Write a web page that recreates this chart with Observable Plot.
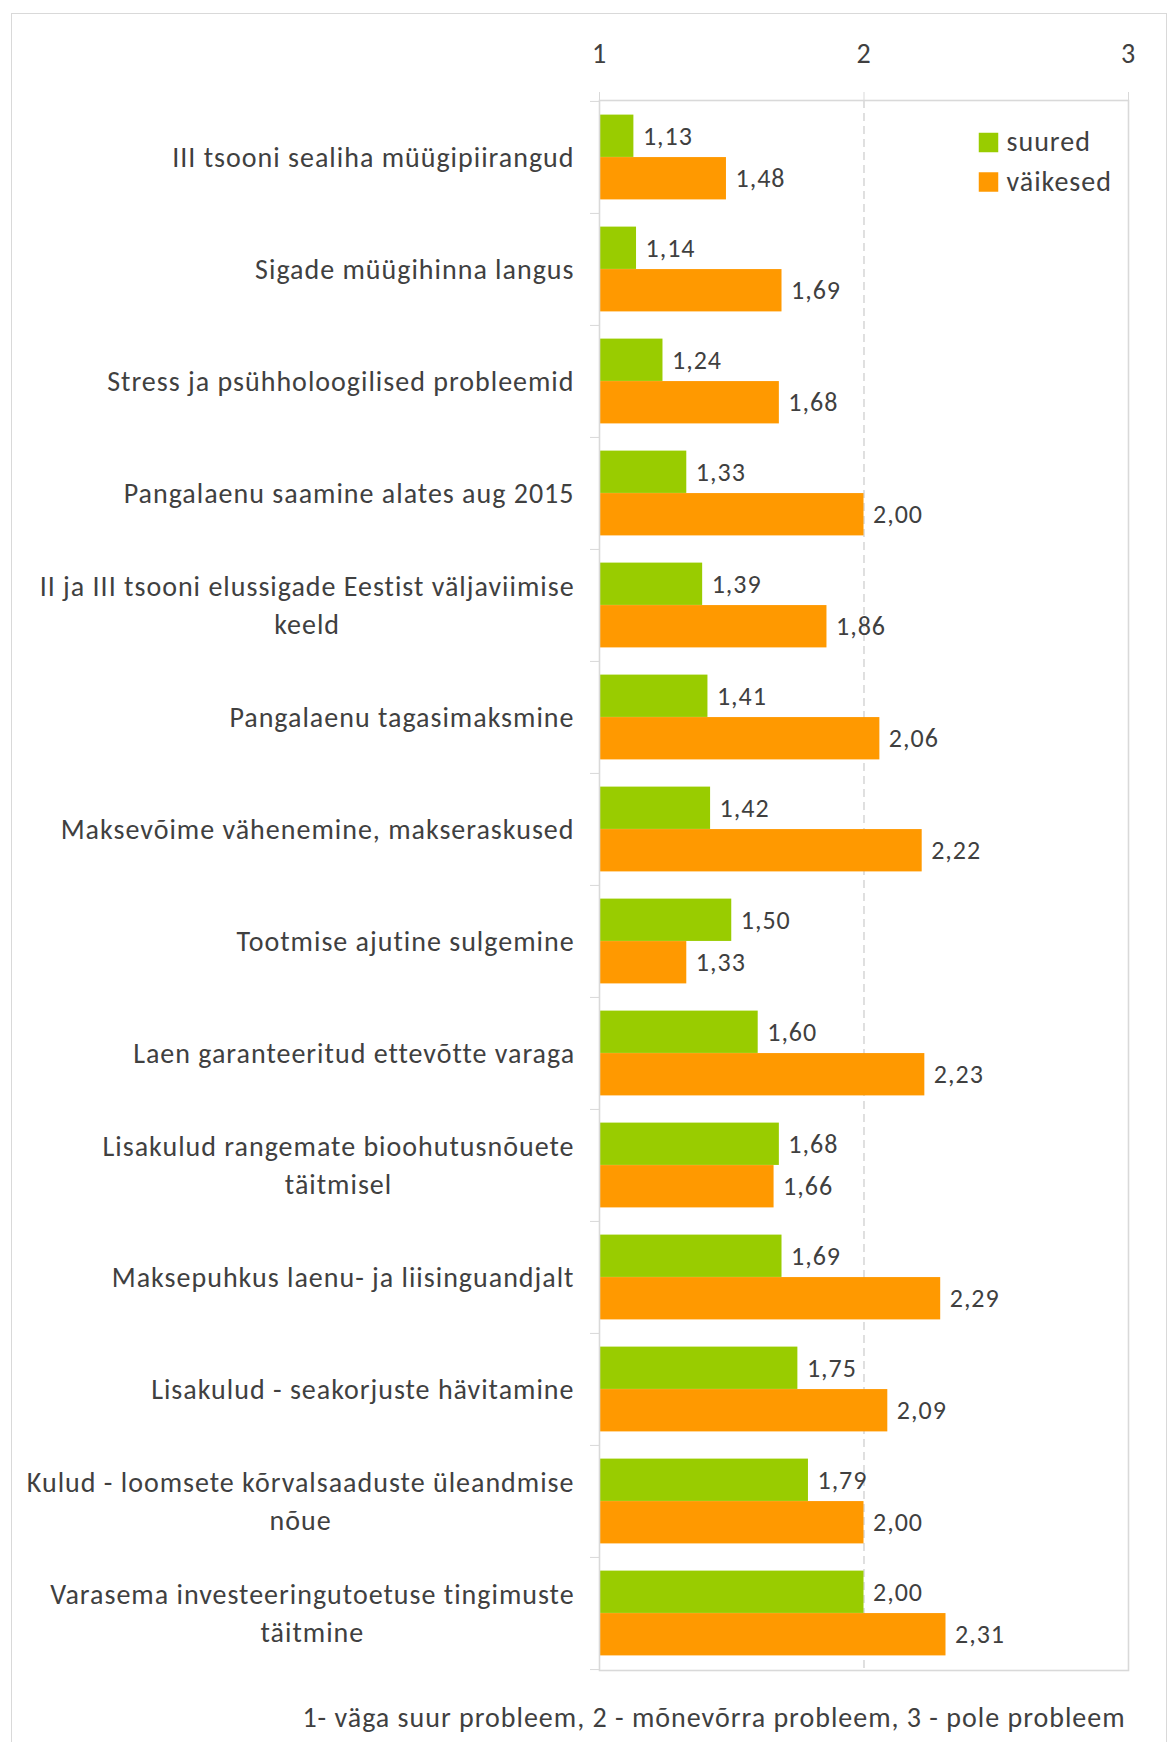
<!DOCTYPE html>
<html><head><meta charset="utf-8">
<script src="https://cdn.jsdelivr.net/npm/d3@7"></script>
<script src="https://cdn.jsdelivr.net/npm/@observablehq/plot@0.6"></script>
<style>
html,body{margin:0;padding:0;background:#fff;width:1170px;height:1742px;overflow:hidden;}
body{position:relative;font-family:Carlito, Lato, sans-serif;color:#404040;}
#border{position:absolute;left:11px;top:13px;width:1156px;height:1800px;border:1.5px solid #d9d9d9;box-sizing:border-box}
#chart{position:absolute;left:0;top:0}
#note{position:absolute;left:214px;width:1000px;top:1701px;text-align:center;font-size:28px;letter-spacing:1px;line-height:34px;color:#404040}
</style></head><body>
<div id="border"></div><div id="chart"></div><div id="note"></div>
<script>
const categories = [
  "III tsooni sealiha müügipiirangud",
  "Sigade müügihinna langus",
  "Stress ja psühholoogilised probleemid",
  "Pangalaenu saamine alates aug 2015",
  "II ja III tsooni elussigade Eestist väljaviimise\nkeeld",
  "Pangalaenu tagasimaksmine",
  "Maksevõime vähenemine, makseraskused",
  "Tootmise ajutine sulgemine",
  "Laen garanteeritud ettevõtte varaga",
  "Lisakulud rangemate bioohutusnõuete\ntäitmisel",
  "Maksepuhkus laenu- ja liisinguandjalt",
  "Lisakulud - seakorjuste hävitamine",
  "Kulud - loomsete kõrvalsaaduste üleandmise\nnõue",
  "Varasema investeeringutoetuse tingimuste\ntäitmine"
];
const suured   = [1.13, 1.14, 1.24, 1.33, 1.39, 1.41, 1.42, 1.50, 1.60, 1.68, 1.69, 1.75, 1.79, 2.00];
const vaikesed = [1.48, 1.69, 1.68, 2.00, 1.86, 2.06, 2.22, 1.33, 2.23, 1.66, 2.29, 2.09, 2.00, 2.31];
const seriesNames = ["suured", "väikesed"];
const seriesColors = ["#99cc00", "#ff9900"];
const xDomain = [1, 3];
const xTicks = [1, 2, 3];
const note = "1- väga suur probleem, 2 - mõnevõrra probleem, 3 - pole probleem";

const FONT = "Carlito, Lato, sans-serif";
const FS = 28;      // category labels, axis, legend
const VFS = 26;     // value labels
const LS = 1;       // letter spacing px
const TEXT = "#404040";
const GRID = "#d9d9d9";

const rows = [];
categories.forEach((c, i) => {
  rows.push({category: c, series: seriesNames[0], value: suured[i]});
  rows.push({category: c, series: seriesNames[1], value: vaikesed[i]});
});
const fmt = v => d3.format(".2f")(v).replace(".", ",");

const canvas = document.createElement("canvas");
const ctx = canvas.getContext("2d");
ctx.font = `${FS}px ${FONT}`;
const labelWidth = c => d3.max(c.split("\n"), s => ctx.measureText(s).width + s.length * LS);

const step = 1570 / categories.length;
const barOuter = 13.6;
const half = step / 2;
const off = (step - 2 * barOuter) / 4;

const marks = [
  Plot.ruleX([2], {stroke: "#cfcfcf", strokeWidth: 1.3, strokeDasharray: "8,5"}),
  ...seriesNames.map((s, i) => Plot.barX(rows.filter(d => d.series === s), {
    y: "category", x1: xDomain[0], x2: "value", fill: "series",
    insetTop: i === 0 ? barOuter : half,
    insetBottom: i === 0 ? half : barOuter
  })),
  ...seriesNames.map((s, i) => Plot.text(rows.filter(d => d.series === s), {
    x: "value", y: "category", text: d => fmt(d.value), textAnchor: "start",
    dx: 9, dy: i === 0 ? -off : off, fill: TEXT, fontSize: VFS
  })),
  Plot.frame({stroke: GRID, strokeWidth: 1.6}),
  Plot.axisX(xTicks, {anchor: "top", tickSize: 9, tickPadding: 29, stroke: GRID, fill: TEXT, label: null, fontSize: FS, tickFormat: d => String(d)}),
  Plot.axisY({anchor: "left", tickSize: 9, tickFormat: () => "", stroke: GRID, dy: -half, label: null}),
  Plot.axisY([categories[categories.length - 1]], {anchor: "left", tickSize: 9, tickFormat: () => "", stroke: GRID, dy: half, label: null}),
  ...categories.map(c => Plot.text([c], {
    y: d => d, text: d => d, frameAnchor: "left", textAnchor: "middle", lineAnchor: "middle",
    dx: -(25 + labelWidth(c) / 2), dy: -3, lineHeight: 38.5 / FS, fill: TEXT, fontSize: FS
  })),
  ...seriesNames.map((s, i) => Plot.dot([s], {
    frameAnchor: "top-right", dx: -140, dy: 42 + i * 39.5, symbol: "square", r: 11, fill: d => d
  })),
  ...seriesNames.map((s, i) => Plot.text([s], {
    frameAnchor: "top-right", dx: -122, dy: 42 + i * 39.5, text: d => d, textAnchor: "start", lineAnchor: "middle", fill: TEXT, fontSize: FS
  }))
];

const chart = Plot.plot({
  width: 1170,
  height: 1690,
  marginLeft: 599,
  marginRight: 42,
  marginTop: 100,
  marginBottom: 20,
  style: {fontFamily: FONT, fontSize: FS + "px", color: TEXT, background: "transparent", letterSpacing: LS + "px"},
  x: {domain: xDomain, axis: null},
  y: {domain: categories, padding: 0, axis: null},
  color: {domain: seriesNames, range: seriesColors},
  marks
});
document.getElementById("chart").appendChild(chart);
document.getElementById("note").textContent = note;
</script>
</body></html>
